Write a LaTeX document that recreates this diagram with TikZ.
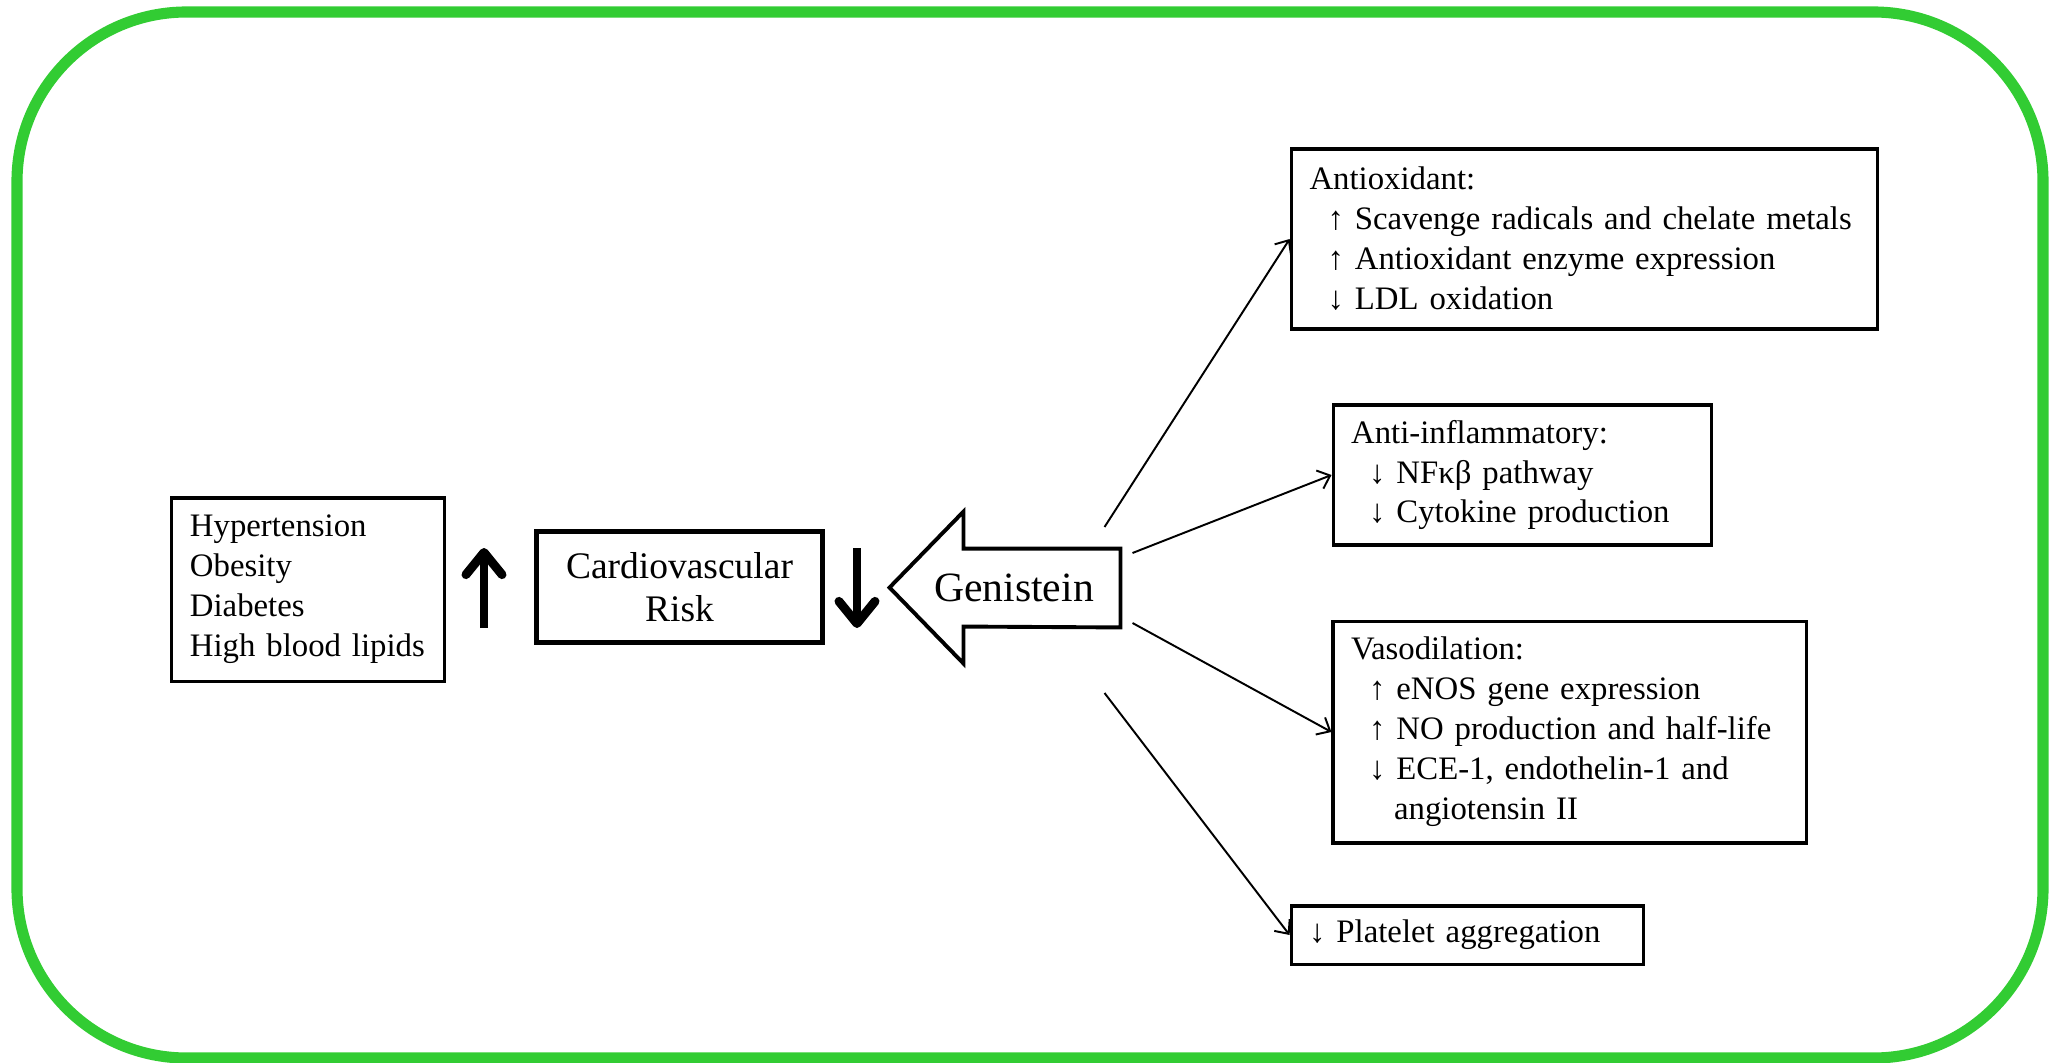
\documentclass[tikz,border=0pt]{standalone}
\usepackage{fontspec}
\setmainfont{Liberation Serif}
\usetikzlibrary{arrows.meta}
\definecolor{framegreen}{RGB}{50,204,51}
\tikzset{effect/.style={-{Straight Barb[length=4pt,width=7pt]}, line width=0.7pt}}
\tikzset{trend/.style={-{Straight Barb[length=8pt,width=13pt,round]}, line width=3.2pt}}
\tikzset{infobox/.style={draw, line width=1.1pt, align=left, inner xsep=6.5pt,
			font=\fontsize{11.8}{14.4}\selectfont}}
% one indented line of an effect box, kept unbroken
\newcommand{\effline}[2]{\mbox{\hspace*{6.5pt}#1 #2}}

\begin{document}
\begin{tikzpicture}[x=0.36pt, y=-0.36pt]
		\useasboundingbox (0,0) rectangle (2049,1063);
		\draw[framegreen, line width=4pt, rounded corners=61pt] (17,12) rectangle (2043,1058);
		
		% left side
		\node[infobox, text width=85pt, minimum height=65.9pt] (factors) at (308,589.5)
			{Hypertension\\Obesity\\Diabetes\\\mbox{High blood lipids}};
		\node[draw, line width=1.8pt, align=center, minimum width=103.3pt, minimum height=40.3pt,
			font=\fontsize{13.5}{15.5}\selectfont] (cvrisk) at (679.5,587) {Cardiovascular\\Risk};
		\draw[trend] (484,628) -- (484,548);
		\draw[trend] (857,548) -- (857,628);
		
		% genistein arrow
		\node[minimum width=76.3pt, minimum height=28pt, font=\fontsize{15}{18}\selectfont] (genistein) at (1014,588) {Genistein};
		\draw[line width=1.4pt] (genistein.north east) -- ++(-157,0) -- ++(0,-37) -- ++(-74,76)
			-- ++(74,76) -- ++(0,-37) -- (genistein.south east) -- cycle;
		
		% effects
		\node[infobox, line width=1.3pt, text width=198pt, minimum height=64.8pt] (antiox) at (1584.5,239)
			{Antioxidant:\\
			\effline{↑}{Scavenge radicals and chelate metals}\\
			\effline{↑}{Antioxidant enzyme expression}\\
			\effline{↓}{LDL oxidation}};
		\node[infobox, text width=123.4pt, minimum height=50.4pt] (antiinfl) at (1522.5,475)
			{Anti-inflammatory:\\
			\effline{↓}{NFκβ pathway}\\
			\effline{↓}{Cytokine production}};
		\node[infobox, text width=157.3pt, minimum height=79.9pt] (vasodil) at (1569.5,732)
			{Vasodilation:\\
			\effline{↑}{eNOS gene expression}\\
			\effline{↑}{NO production and half-life}\\
			\effline{↓}{ECE-1, endothelin-1 and}\\
			\hspace*{15.5pt}angiotensin II};
		\node[infobox, text width=114pt, minimum height=20.9pt] (platelet) at (1467.5,935)
			{\mbox{↓ Platelet aggregation}};
		
		\draw[effect] ([shift={(-16,-61)}]genistein.east) -- (antiox.west);
		\draw[effect] ([shift={(12,-35)}]genistein.east) -- (antiinfl.west);
		\draw[effect] ([shift={(12,35)}]genistein.east) -- (vasodil.west);
		\draw[effect] ([shift={(-16,105)}]genistein.east) -- (platelet.west);
		
		%		\draw[very thin,color=gray] (0,0) grid[step=100] (2049,1063);
	\end{tikzpicture}
\end{document}
